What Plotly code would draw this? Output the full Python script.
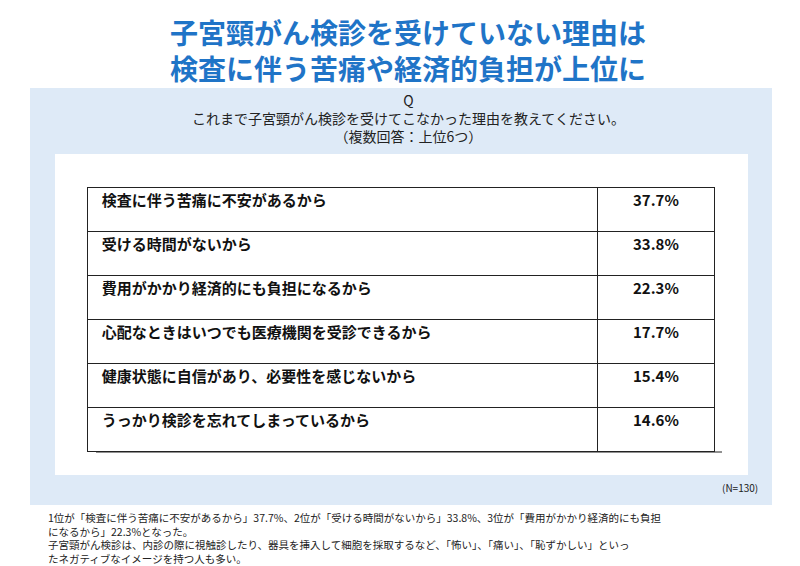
import plotly.graph_objects as go

reasons = [
    "検査に伴う苦痛に不安があるから",
    "受ける時間がないから",
    "費用がかかり経済的にも負担になるから",
    "心配なときはいつでも医療機関を受診できるから",
    "健康状態に自信があり、必要性を感じないから",
    "うっかり検診を忘れてしまっているから",
]
shares = [37.7, 33.8, 22.3, 17.7, 15.4, 14.6]

FONT = "Noto Sans CJK JP"
W, H = 800, 566

def px(x0, y0, x1, y1):
    return dict(x0=x0 / W, x1=x1 / W, y0=1 - y1 / H, y1=1 - y0 / H)

labels = ["  " + r for r in reasons]
values = [f"{s:.1f}%" for s in shares]
row_font = dict(family=FONT, size=15, color="#111111", weight="bold")
row_line = dict(color="#222222", width=1)

fig = go.Figure()
fig.add_trace(go.Table(
    domain=dict(x=[79 / W, 706 / W], y=[1 - 446 / H, 1 - 179 / H]),
    columnwidth=[510, 116],
    header=dict(values=[labels[0], values[0]], align=["left", "center"], height=44,
                fill_color="white", line=row_line, font=row_font),
    cells=dict(
        values=[labels[1:], values[1:]],
        align=["left", "center"],
        height=44,
        fill_color="white",
        line=row_line,
        font=row_font,
    ),
))

shapes = [
    dict(type="rect", xref="paper", yref="paper", fillcolor="#deeaf7",
         line=dict(width=0), layer="below", **px(22, 80, 764, 497)),
    dict(type="rect", xref="paper", yref="paper", fillcolor="white",
         line=dict(width=0), layer="below", **px(47, 146, 740, 467)),
    dict(type="line", xref="paper", yref="paper", line=dict(color="#222222", width=1),
         **px(88, 444, 714, 444)),
]

notes = ("1位が「検査に伴う苦痛に不安があるから」37.7%、2位が「受ける時間がないから」33.8%、3位が「費用がかかり経済的にも負担<br>"
         "になるから」22.3%となった。<br>"
         "子宮頸がん検診は、内診の際に視触診したり、器具を挿入して細胞を採取するなど、「怖い」、「痛い」、「恥ずかしい」といっ<br>"
         "たネガティブなイメージを持つ人も多い。")

annotations = [
    dict(text="子宮頸がん検診を受けていない理由は<br>検査に伴う苦痛や経済的負担が上位に",
         x=0.5, y=1 - 2 / H, xanchor="center", yanchor="top",
         font=dict(family=FONT, size=28, color="#1f74c7", weight="bold")),
    dict(text="Q<br>これまで子宮頸がん検診を受けてこなかった理由を教えてください。<br>（複数回答：上位6つ）",
         x=0.5, y=1 - 80 / H, xanchor="center", yanchor="top",
         font=dict(family=FONT, size=14, color="#222222")),
    dict(text="(N=130)", x=752 / W, y=1 - 479 / H, xanchor="right", yanchor="middle",
         font=dict(family=FONT, size=10, color="#222222")),
    dict(text=notes, x=38 / W, y=1 - 500 / H, xanchor="left", yanchor="top", align="left",
         font=dict(family=FONT, size=10.5, color="#222222")),
]
for a in annotations:
    a.update(xref="paper", yref="paper", showarrow=False)

fig.update_layout(
    width=W, height=H, margin=dict(l=0, r=0, t=0, b=0),
    paper_bgcolor="white", plot_bgcolor="white",
    shapes=shapes, annotations=annotations,
)
fig.write_html("out.html")
